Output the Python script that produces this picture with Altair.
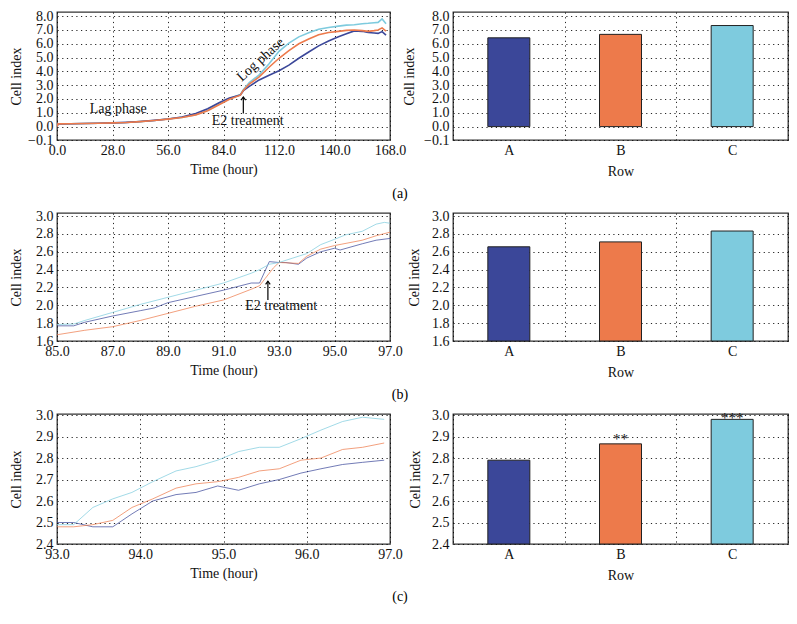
import altair as alt
import pandas as pd

ROWS = ["A", "B", "C"]
COLORS = ["#3b4799", "#ed7a4b", "#7ecbde"]
FONT = "Liberation Serif, DejaVu Serif, serif"

# ---------- (a) full time course ----------
a_time = [0, 0.5, 7, 14, 21, 28, 35, 42, 49, 56, 63, 70, 76, 82, 87, 92.5, 94, 97,
          102, 107, 112, 117, 122, 127, 132, 137, 142, 146, 150, 154, 157, 160, 162, 164, 166]
a_A = [0.0, 0.20, 0.21, 0.22, 0.24, 0.27, 0.31, 0.37, 0.45, 0.55, 0.70, 0.95, 1.30, 1.75, 2.08, 2.28,
       2.60, 2.92, 3.38, 3.72, 4.05, 4.45, 4.95, 5.40, 5.85, 6.20, 6.50, 6.72, 6.93, 6.90, 6.82, 6.78,
       6.75, 6.88, 6.62]
a_B = [0.0, 0.20, 0.21, 0.22, 0.24, 0.27, 0.30, 0.36, 0.44, 0.54, 0.66, 0.85, 1.15, 1.60, 1.98, 2.28,
       2.62, 3.08, 3.60, 4.30, 4.95, 5.50, 6.00, 6.35, 6.65, 6.82, 6.90, 6.97, 7.00, 6.95, 6.90, 6.95,
       7.00, 7.15, 6.92]
a_C = [0.0, 0.20, 0.21, 0.22, 0.24, 0.27, 0.30, 0.36, 0.44, 0.55, 0.67, 0.86, 1.18, 1.65, 2.02, 2.32,
       2.68, 3.18, 3.75, 4.55, 5.45, 6.05, 6.50, 6.80, 7.05, 7.18, 7.28, 7.35, 7.38, 7.45, 7.48, 7.52,
       7.55, 7.80, 7.45]

# ---------- (b) 85-97 h ----------
b_time_A = [85, 85.6, 86, 87, 88, 88.5, 89, 90, 91, 92, 92.3, 92.65, 93, 93.25, 93.7, 94, 94.5,
            95, 95.2, 96, 96.5, 97]
b_A = [1.77, 1.77, 1.81, 1.88, 1.94, 1.97, 2.03, 2.10, 2.17, 2.25, 2.25, 2.49, 2.48, 2.48, 2.46,
       2.53, 2.60, 2.64, 2.62, 2.69, 2.73, 2.75]
b_time_B = [85, 86, 87, 88, 89, 90, 91, 92, 92.3, 92.5, 92.8, 93, 93.7, 94, 94.5, 95, 96, 96.5, 97]
b_B = [1.67, 1.72, 1.76, 1.83, 1.91, 1.99, 2.06, 2.18, 2.22, 2.30, 2.42, 2.48, 2.47, 2.55, 2.63,
       2.67, 2.73, 2.78, 2.82]
b_time_C = [85, 85.6, 86, 87, 88, 89, 90, 91, 92, 92.3, 92.65, 93, 93.5, 94, 94.5, 95, 95.4, 96,
            96.5, 96.8, 97]
b_C = [1.785, 1.79, 1.83, 1.92, 2.01, 2.09, 2.17, 2.25, 2.36, 2.40, 2.46, 2.48, 2.53, 2.58, 2.68,
       2.74, 2.79, 2.83, 2.91, 2.93, 2.92]

# ---------- (c) 93-97 h ----------
c_time = [93.0, 93.2, 93.43, 93.67, 93.9, 94.15, 94.43, 94.67, 94.93, 95.18, 95.43, 95.67, 95.93,
          96.17, 96.43, 96.67, 96.93]
c_A = [2.50, 2.50, 2.48, 2.48, 2.54, 2.60, 2.63, 2.64, 2.67, 2.65, 2.68, 2.70, 2.73, 2.75, 2.77,
       2.78, 2.79]
c_B = [2.48, 2.48, 2.49, 2.51, 2.57, 2.61, 2.66, 2.68, 2.69, 2.71, 2.74, 2.75, 2.79, 2.80, 2.84,
       2.85, 2.87]
c_C = [2.49, 2.49, 2.57, 2.61, 2.64, 2.69, 2.74, 2.76, 2.79, 2.83, 2.85, 2.85, 2.89, 2.93, 2.97,
       2.99, 2.98]

# ---------- bar values ----------
bar_a = [6.43, 6.68, 7.32]
bar_b = [2.656, 2.711, 2.833]
bar_c = [2.79, 2.866, 2.98]
sig_c = ["", "**", "***"]
sig_c_pos = [2.79, 2.866, 2.962]

# ---------- annotations (data coordinates) ----------
ann_a_text = ["Lag phase", "E2 treatment"]
ann_a_time = [30.9, 96.2]
ann_a_val = [1.25, 0.38]
log_text, log_time, log_val = ["Log phase"], [102.7], [4.85]
arrow_a_time, arrow_a_from, arrow_a_to = [94.0], [0.95], [2.15]
ann_b_text, ann_b_time, ann_b_val = ["E2 treatment"], [93.08], [1.99]
arrow_b_time, arrow_b_from, arrow_b_to = [92.6], [2.06], [2.27]


def long_df(series):
    rows = []
    for name, (t, v) in series.items():
        for ti, vi in zip(t, v):
            rows.append({"row": name, "time": ti, "value": vi})
    return pd.DataFrame(rows)


color_enc = alt.Color("row:N", scale=alt.Scale(domain=ROWS, range=COLORS), legend=None)
ARROW = "M-0.55,0.75L0,0L0.55,0.75"


def yaxis(vals, extent, label_expr=None, fmt=".1f"):
    kw = dict(values=vals, title="Cell index", minExtent=extent, maxExtent=extent, titlePadding=4,
              labelOverlap=False, labelPadding=4)
    if label_expr:
        kw["labelExpr"] = label_expr
    else:
        kw["format"] = fmt
    return alt.Axis(**kw)


def text_layer(x, y, texts, times, vals, angle=0):
    d = pd.DataFrame({"text": texts, "time": times, "value": vals})
    return alt.Chart(d).mark_text(font=FONT, fontSize=14, angle=angle, color="#111",
                                  baseline="middle", align="center").encode(
        x=x, y=y, text="text:N")


def arrow_layers(x, y, t, v0, v1):
    d = pd.DataFrame({"time": t, "value": v0, "value2": v1})
    d2 = pd.DataFrame({"time": t, "value": v1})
    rule = alt.Chart(d).mark_rule(color="#000", strokeWidth=1.2).encode(
        x=x, y=y, y2="value2:Q")
    head = alt.Chart(d2).mark_point(shape=ARROW, filled=False, color="#000", size=70,
                                    strokeWidth=1.2, opacity=1).encode(x=x, y=y)
    return [rule, head]


def line_panel(df, xdom, xvals, ydom, yvals, sw, opacity, width, height, extent, tag, tag_y,
               label_expr=None, extras=None):
    x = alt.X("time:Q", scale=alt.Scale(domain=xdom, nice=False, zero=False),
              axis=alt.Axis(values=xvals, format=".1f", title="Time (hour)", titlePadding=5,
                            labelPadding=3, labelOverlap=False))
    y = alt.Y("value:Q", scale=alt.Scale(domain=ydom, nice=False, zero=False),
              axis=yaxis(yvals, extent, label_expr))
    lines = alt.Chart(df).mark_line(strokeWidth=sw, opacity=opacity, clip=True).encode(
        x=x, y=y, color=color_enc, order="time:Q")
    extra = extras(x, y) if extras else []
    tag_layer = alt.Chart(pd.DataFrame({"t": [tag]})).mark_text(
        font=FONT, fontSize=14, baseline="middle", align="center").encode(
        text="t:N", x=alt.value(343), y=alt.value(tag_y))
    return alt.layer(lines, *extra, tag_layer).properties(width=width, height=height)


def bar_panel(vals, base, ydom, yvals, width, height, extent, label_expr=None, sig=None,
              sig_pos=None):
    df = pd.DataFrame({"row": ROWS, "value": vals, "base": [base] * 3})
    x = alt.X("row:N", scale=alt.Scale(domain=ROWS, paddingInner=0, paddingOuter=0),
              axis=alt.Axis(tickBand="extent", grid=True, labelAngle=0, title="Row",
                            titlePadding=7, labelPadding=3))
    y = alt.Y("value:Q", scale=alt.Scale(domain=ydom, nice=False, zero=False),
              axis=yaxis(yvals, extent, label_expr))
    bars = alt.Chart(df).mark_bar(width=42, stroke="#222", strokeWidth=1).encode(
        x=x, y=y, y2="base:Q", color=color_enc)
    layers = [bars]
    if sig:
        sdf = pd.DataFrame({"row": ROWS, "value": sig_pos, "sig": sig})
        layers.append(alt.Chart(sdf).mark_text(font=FONT, fontSize=15, baseline="alphabetic",
                                               color="#111").encode(
            x=x, y=y, text="sig:N"))
    return alt.layer(*layers).properties(width=width, height=height)


A_EXPR = "datum.value < -0.5 ? '\u22120.1' : format(datum.value, '.1f')"
a_ydom = [-0.97, 8.3]
a_yvals = [-0.97, 0, 1, 2, 3, 4, 5, 6, 7, 8]

# series order controls drawing order (orange drawn on top in panel a)
df_a = long_df({"C": (a_time, a_C), "A": (a_time, a_A), "B": (a_time, a_B)})
df_b = long_df({"A": (b_time_A, b_A), "B": (b_time_B, b_B), "C": (b_time_C, b_C)})
df_c = long_df({"A": (c_time, c_A), "B": (c_time, c_B), "C": (c_time, c_C)})


def a_extras(x, y):
    return [text_layer(x, y, ann_a_text, ann_a_time, ann_a_val),
            text_layer(x, y, log_text, log_time, log_val, angle=318)] + \
        arrow_layers(x, y, arrow_a_time, arrow_a_from, arrow_a_to)


def b_extras(x, y):
    return [text_layer(x, y, ann_b_text, ann_b_time, ann_b_val)] + \
        arrow_layers(x, y, arrow_b_time, arrow_b_from, arrow_b_to)


a_left = line_panel(df_a, [0, 168], [0, 28, 56, 84, 112, 140, 168], a_ydom, a_yvals, 1.6, 1.0,
                    333, 128, 30, "(a)", 182, label_expr=A_EXPR, extras=a_extras)
b_left = line_panel(df_b, [85, 97], [85, 87, 89, 91, 93, 95, 97], [1.6, 3.035],
                    [1.6, 1.8, 2.0, 2.2, 2.4, 2.6, 2.8, 3.0], 0.9, 0.8, 333, 128, 30, "(b)", 182,
                    extras=b_extras)
c_left = line_panel(df_c, [93, 97], [93, 94, 95, 96, 97], [2.4, 3.005],
                    [2.4, 2.5, 2.6, 2.7, 2.8, 2.9, 3.0], 0.9, 0.8, 333, 130, 30, "(c)", 183)

a_right = bar_panel(bar_a, 0.0, a_ydom, a_yvals, 335, 128, 33, label_expr=A_EXPR)
b_right = bar_panel(bar_b, 1.6, [1.6, 3.035], [1.6, 1.8, 2.0, 2.2, 2.4, 2.6, 2.8, 3.0], 335, 128, 28)
c_right = bar_panel(bar_c, 2.4, [2.4, 3.005], [2.4, 2.5, 2.6, 2.7, 2.8, 2.9, 3.0], 335, 130, 27,
                    sig=sig_c, sig_pos=sig_c_pos)

chart = alt.concat(a_left, a_right, b_left, b_right, c_left, c_right, columns=2,
                   spacing={"row": 73, "column": 63}, bounds="flush").properties(
    padding={"left": 0, "top": 0, "right": 0, "bottom": 0}
).configure_view(
    stroke="#333", strokeWidth=1.3
).configure_axis(
    labelFont=FONT, labelFontSize=14, labelColor="#111",
    titleFont=FONT, titleFontSize=14, titleFontWeight="normal", titleColor="#111",
    domain=False, ticks=False, labelPadding=3,
    grid=True, gridColor="#000", gridDash=[1.2, 3.5], gridOpacity=0.85, gridWidth=1,
    labelFlush=False, labelOverlap=False
)

chart.save("out.html", embed_options={"renderer": "svg", "actions": False})
